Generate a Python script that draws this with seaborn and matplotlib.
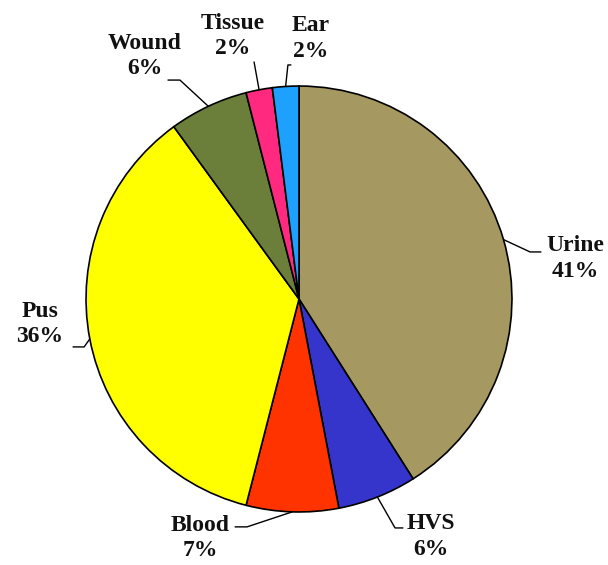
import numpy as np
import seaborn as sns
import matplotlib.pyplot as plt

# sample sources and share (%)
sources = ["Urine", "HVS", "Blood", "Pus", "Wound", "Tissue", "Ear"]
shares = [41, 6, 7, 36, 6, 2, 2]
colors = ["#A59860", "#3535CC", "#FF3300", "#FFFF00", "#6B7F3A", "#FF2A80", "#1EA0FF"]

# label layout (data units, radius = 1): text centre, leader elbow, leader end
text_pos = [(1.296, 0.192), (0.620, -1.117), (-0.465, -1.122), (-1.216, -0.117),
            (-0.723, 1.141), (-0.310, 1.235), (0.056, 1.225)]
elbows = [(1.085, 0.221), (0.451, -1.075), (-0.244, -1.070), (-1.009, -0.225),
          (-0.559, 1.028), (-0.211, 1.113), (-0.052, 1.099)]
ends = [(1.136, 0.221), (0.488, -1.075), (-0.300, -1.070), (-1.061, -0.225),
        (-0.615, 1.028), (-0.211, 1.113), (-0.038, 1.099)]

sns.set_theme(style="white")
plt.rcParams['font.family'] = ['Liberation Serif', 'DejaVu Serif']

fig = plt.figure(figsize=(6.08, 5.65), dpi=100)
ax = fig.add_axes([0, 0, 1, 1])

wedges, _ = ax.pie(shares, colors=colors, startangle=90, counterclock=False,
                   wedgeprops=dict(edgecolor="black", linewidth=1.2))

for w, name, val, tp, el, en in zip(wedges, sources, shares, text_pos, elbows, ends):
    mid = np.deg2rad((w.theta1 + w.theta2) / 2)
    edge = (np.cos(mid), np.sin(mid))
    ax.plot([edge[0], el[0], en[0]], [edge[1], el[1], en[1]], color="black", lw=1.0,
            clip_on=False)
    ax.text(tp[0], tp[1], f"{name}\n{val}%", ha="center", va="center", fontsize=17,
            fontweight="bold", color="#111111", linespacing=1.3)

ax.set_xlim(-1.404, 1.451)
ax.set_ylim(-1.249, 1.404)
ax.set_aspect("auto")
ax.axis("off")

fig.savefig("out.png", dpi=100, facecolor="white")
